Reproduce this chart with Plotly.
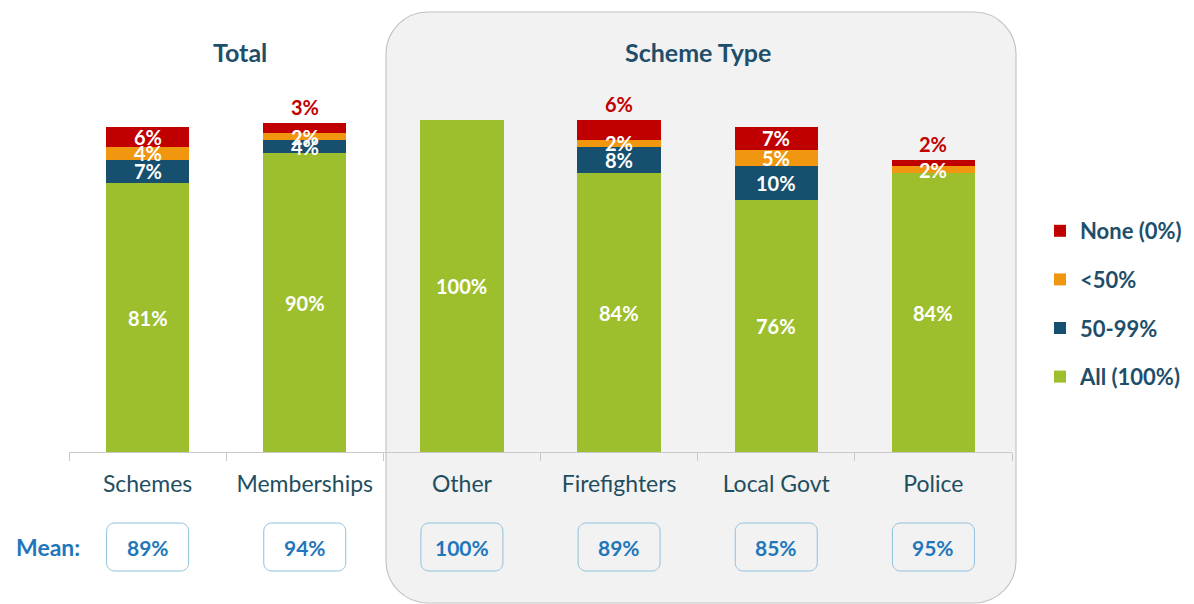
import plotly.graph_objects as go

# ---------------- data ----------------
categories = ["Schemes", "Memberships", "Other", "Firefighters", "Local Govt", "Police"]
all_100 = [81, 90, 100, 84, 76, 84]
pct_50_99 = [7, 4, 0, 8, 10, 0]
lt_50 = [4, 2, 0, 2, 5, 2]
none_0 = [6, 3, 0, 6, 7, 2]
mean_labels = ["89%", "94%", "100%", "89%", "85%", "95%"]
red_label_outside = [False, True, False, True, False, True]
series_names = ["All (100%)", "50-99%", "<50%", "None (0%)"]
group_titles = ["Total", "Scheme Type"]

# ---------------- style ----------------
W, H = 1194, 604
FONT = "Lato"
GREEN, BLUE, ORANGE, RED = "#9dbf2e", "#17506e", "#f0960f", "#c00000"
TEAL = "#1f4e6b"
MEANBLUE = "#1f77bb"

X0PX, X1PX = 69, 1012
Y0PX, Y100PX = 452, 120


def px(p):
    return p / W


def py(p):
    return (H - p) / H


def rounded_path(l, t, r, b, rad):
    k = 0.5523 * rad
    return (
        f"M {px(l + rad)},{py(t)} L {px(r - rad)},{py(t)} "
        f"C {px(r - rad + k)},{py(t)} {px(r)},{py(t + rad - k)} {px(r)},{py(t + rad)} "
        f"L {px(r)},{py(b - rad)} "
        f"C {px(r)},{py(b - rad + k)} {px(r - rad + k)},{py(b)} {px(r - rad)},{py(b)} "
        f"L {px(l + rad)},{py(b)} "
        f"C {px(l + rad - k)},{py(b)} {px(l)},{py(b - rad + k)} {px(l)},{py(b - rad)} "
        f"L {px(l)},{py(t + rad)} "
        f"C {px(l)},{py(t + rad - k)} {px(l + rad - k)},{py(t)} {px(l + rad)},{py(t)} Z"
    )


series_values = [all_100, pct_50_99, lt_50, none_0]
series_colors = [GREEN, BLUE, ORANGE, RED]

fig = go.Figure()
for k, (name, vals, col) in enumerate(zip(series_names, series_values, series_colors)):
    fig.add_trace(go.Bar(
        x=categories, y=vals, name=f"<b>{name}</b>",
        marker=dict(color=col, line=dict(width=0)),
        width=0.53, legendgroup=name, legendrank=len(series_names) - k,
        hoverinfo="skip",
    ))

annotations = []
# segment labels
for i, cat in enumerate(categories):
    cum = 0
    for s, vals in enumerate(series_values):
        v = vals[i]
        if v > 0:
            if s == 3 and red_label_outside[i]:
                annotations.append(dict(
                    x=cat, y=cum + v, xref="x", yref="y", text=f"<b>{v}%</b>",
                    showarrow=False, yanchor="bottom", yshift=2,
                    font=dict(family=FONT, size=20, color=RED)))
            else:
                annotations.append(dict(
                    x=cat, y=cum + v / 2, xref="x", yref="y", text=f"<b>{v}%</b>",
                    showarrow=False, yanchor="middle",
                    font=dict(family=FONT, size=20, color="white")))
        cum += v

# group titles
annotations.append(dict(x=px(240), y=py(52), xref="paper", yref="paper",
                        text=f"<b>{group_titles[0]}</b>", showarrow=False,
                        xanchor="center", yanchor="middle",
                        font=dict(family=FONT, size=25, color=TEAL)))
annotations.append(dict(x=px(698), y=py(52), xref="paper", yref="paper",
                        text=f"<b>{group_titles[1]}</b>", showarrow=False,
                        xanchor="center", yanchor="middle",
                        font=dict(family=FONT, size=25, color=TEAL)))

# mean row
annotations.append(dict(x=px(48), y=py(547), xref="paper", yref="paper",
                        text="<b>Mean:</b>", showarrow=False,
                        xanchor="center", yanchor="middle",
                        font=dict(family=FONT, size=23, color=MEANBLUE)))
shapes = [dict(type="path", xref="paper", yref="paper",
               path=rounded_path(386, 12, 1016, 603, 42),
               fillcolor="#f2f2f2", line=dict(color="#c4c4c4", width=1.2),
               layer="below")]
step = (X1PX - X0PX) / len(categories)
for i, cat in enumerate(categories):
    cx = X0PX + (i + 0.5) * step
    annotations.append(dict(x=cat, y=py(547), xref="x", yref="paper",
                            text=f"<b>{mean_labels[i]}</b>", showarrow=False,
                            xanchor="center", yanchor="middle",
                            font=dict(family=FONT, size=21, color=MEANBLUE)))
    shapes.append(dict(type="path", xref="paper", yref="paper",
                       path=rounded_path(cx - 41, 523, cx + 41, 571, 8),
                       fillcolor="rgba(0,0,0,0)",
                       line=dict(color="#8fc1de", width=1)))

fig.update_layout(
    width=W, height=H,
    margin=dict(l=0, r=0, t=0, b=0),
    paper_bgcolor="white", plot_bgcolor="rgba(0,0,0,0)",
    barmode="stack",
    font=dict(family=FONT),
    xaxis=dict(domain=[px(X0PX), px(X1PX)], range=[-0.5, 5.5],
               showline=True, linecolor="#c8c8c8", linewidth=1,
               ticks="outside", tickson="boundaries", ticklen=8, tickcolor="#c8c8c8",
               tickfont=dict(family=FONT, size=23, color="#1f4e5f"),
               ticklabelstandoff=11, showgrid=False, fixedrange=True),
    yaxis=dict(domain=[py(Y0PX), py(Y100PX)], range=[0, 100], visible=False,
               showgrid=False, fixedrange=True),
    legend=dict(x=px(1040), y=py(210), xanchor="left", yanchor="top",
                traceorder="grouped", tracegroupgap=17,
                font=dict(family=FONT, size=22, color=TEAL),
                bgcolor="rgba(0,0,0,0)"),
    annotations=annotations,
    shapes=shapes,
)

fig.write_html("out.html", config={"displayModeBar": False},
               post_script="document.body.style.margin='0';document.body.style.overflow='hidden';")
